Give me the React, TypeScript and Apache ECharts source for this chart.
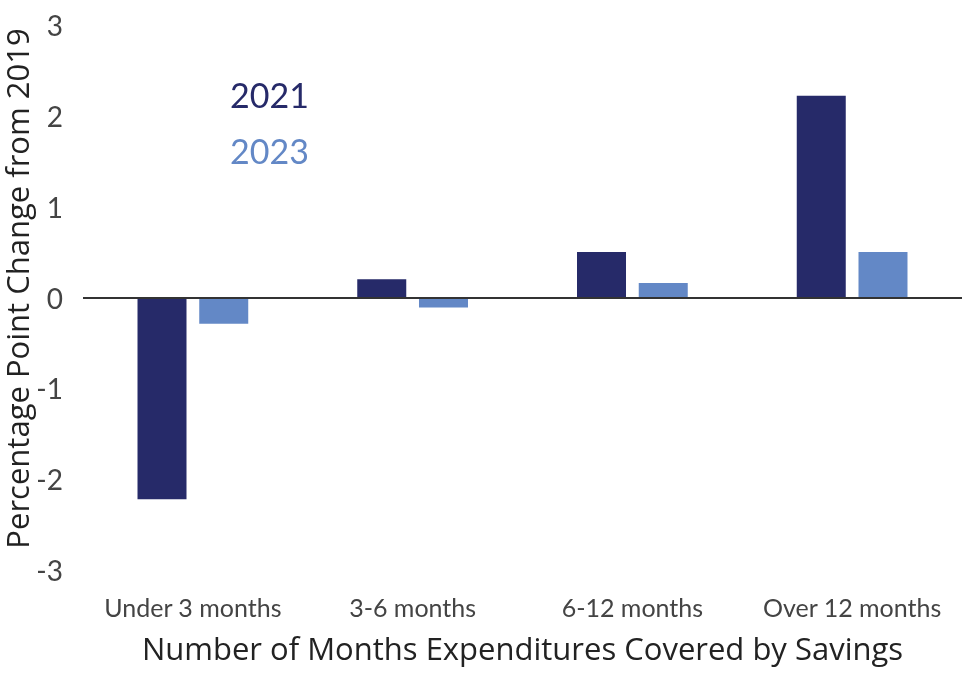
import React, { useEffect, useRef } from "react";
import * as echarts from "echarts";

const categories = ["Under 3 months", "3-6 months", "6-12 months", "Over 12 months"];
const values2021 = [-2.22, 0.2, 0.5, 2.22];
const values2023 = [-0.29, -0.11, 0.16, 0.5];
const seriesNames = ["2021", "2023"];
const colors = ["#262a69", "#6388c6"];

export default function App() {
  const ref = useRef<HTMLDivElement>(null);
  useEffect(() => {
    if (!ref.current) return;
    const chart = echarts.init(ref.current, undefined, { renderer: "svg" });
    chart.setOption({
      animation: false,
      grid: { left: 83, right: 10, top: 25, bottom: 108, containLabel: false, outerBoundsMode: "none" },
      legend: {
        orient: "vertical",
        left: 220,
        top: 72,
        itemGap: 22,
        icon: "none",
        itemWidth: 0,
        itemHeight: 0,
        selectedMode: false,
        data: [
          { name: seriesNames[0], textStyle: { color: colors[0] } },
          { name: seriesNames[1], textStyle: { color: colors[1] } },
        ],
        textStyle: { fontSize: 34, fontFamily: "Lato", padding: 0 },
      },
      xAxis: {
        type: "category",
        data: categories,
        axisLine: { show: false },
        axisTick: { show: false },
        axisLabel: {
          interval: 0,
          fontSize: 25,
          fontFamily: "Lato",
          color: "#444",
          margin: 24,
        },
        name: "Number of Months Expenditures Covered by Savings",
        nameLocation: "middle",
        nameGap: 62,
        nameMoveOverlap: false,
        nameTextStyle: { fontSize: 31, fontFamily: "'Open Sans'", color: "#222" },
      },
      yAxis: {
        type: "value",
        min: -3,
        max: 3,
        interval: 1,
        axisLine: { show: false },
        axisTick: { show: false },
        splitLine: { show: false },
        axisLabel: { fontSize: 28, fontFamily: "Lato", color: "#444", margin: 20 },
        name: "Percentage Point Change from 2019",
        nameLocation: "middle",
        nameGap: 52,
        nameMoveOverlap: false,
        nameTextStyle: { fontSize: 31, lineHeight: 28, fontFamily: "'Open Sans'", color: "#222", padding: [0, 0, 0, 18] },
      },
      series: [
        {
          name: seriesNames[0],
          type: "bar",
          data: values2021,
          barWidth: 49,
          barGap: "26%",
          itemStyle: { color: colors[0] },
          markLine: {
            silent: true,
            symbol: "none",
            label: { show: false },
            lineStyle: { color: "#333", width: 2, type: "solid" },
            data: [{ yAxis: 0 }],
          },
        },
        {
          name: seriesNames[1],
          type: "bar",
          data: values2023,
          barWidth: 49,
          barGap: "26%",
          itemStyle: { color: colors[1] },
        },
      ],
    });
    return () => chart.dispose();
  }, []);
  return <div ref={ref} style={{ position: "fixed", left: 0, top: 0, width: 972, height: 678 }} />;
}
